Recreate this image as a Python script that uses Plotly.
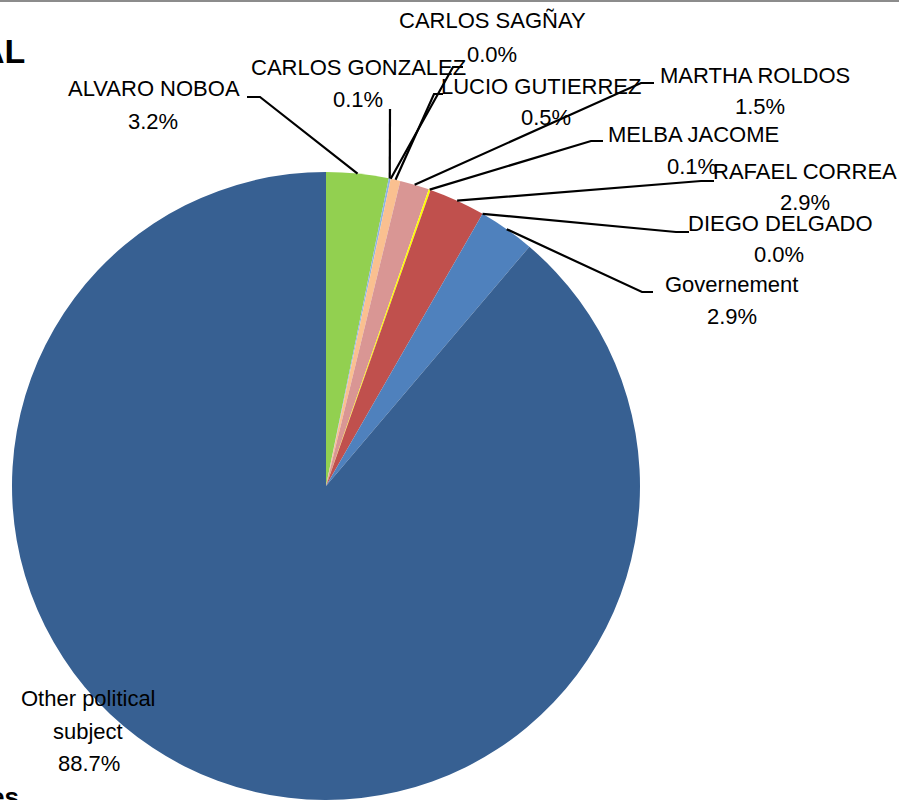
import math
import plotly.graph_objects as go

# ---- data ----
labels = ["ALVARO NOBOA", "CARLOS GONZALEZ", "CARLOS SAGÑAY", "LUCIO GUTIERREZ",
          "MARTHA ROLDOS", "MELBA JACOME", "RAFAEL CORREA", "DIEGO DELGADO",
          "Governement", "Other political subject"]
values = [3.2, 0.1, 0.0, 0.5, 1.5, 0.1, 2.9, 0.0, 2.9, 88.7]
colors = ["#92D050", "#8DB4E2", "#B3A2C7", "#FAC090", "#D99694", "#FFFF00",
          "#C0504D", "#9BBB59", "#4F81BD", "#376092"]

W, H = 899, 800
CX, CY, R = 326, 486, 314  # pie centre / radius in px

def px(x):
    return x / W

def py(y):
    return 1 - y / H

# label layout: (name centre x, name centre y, pct centre x, pct centre y,
#                leader elbow, leader end) in px
layout_pos = {
    "ALVARO NOBOA":    (154, 89, 153, 121, (260, 97), (247, 97)),
    "CARLOS GONZALEZ": (358, 68, 358, 99, (390, 109), None),
    "CARLOS SAGÑAY":   (492, 21, 492, 54, (453, 67), (463, 67)),
    "LUCIO GUTIERREZ": (541, 86, 546, 117, (434, 94), (443, 94)),
    "MARTHA ROLDOS":   (755, 76, 760, 106, (641, 83), (654, 83)),
    "MELBA JACOME":    (693, 134, 692, 166, (591, 141), (603, 141)),
    "RAFAEL CORREA":   (805, 171, 805, 203, (701, 181), (714, 181)),
    "DIEGO DELGADO":   (780, 223, 779, 255, (676, 232), (689, 232)),
    "Governement":     (731, 284, 732, 316, (642, 292), (653, 292)),
}

fig = go.Figure(go.Pie(
    labels=labels, values=values, sort=False, direction="clockwise",
    rotation=0, textinfo="none", hoverinfo="label+percent",
    marker=dict(colors=colors, line=dict(width=0)),
    domain=dict(x=[px(CX - R), px(CX + R)], y=[py(CY + R), py(CY - R)]),
    showlegend=False,
))

font = dict(family="Liberation Sans, Arial, sans-serif", size=22, color="#000000")
annotations = []
shapes = []
total = sum(values)
cum = 0.0
for lab, v in zip(labels, values):
    theta = 2 * math.pi * (cum + v / 2) / total
    cum += v
    sx = CX + R * math.sin(theta)
    sy = CY - R * math.cos(theta)
    pct = f"{v:.1f}%"
    if lab in layout_pos:
        nx, ny, qx, qy, elbow, end = layout_pos[lab]
        annotations.append(dict(x=px(nx), y=py(ny), xref="paper", yref="paper", text=lab,
                                showarrow=False, font=font, xanchor="center", yanchor="middle"))
        annotations.append(dict(x=px(qx), y=py(qy), xref="paper", yref="paper", text=pct,
                                showarrow=False, font=font, xanchor="center", yanchor="middle"))
        path = f"M {px(sx)} {py(sy)} L {px(elbow[0])} {py(elbow[1])}"
        if end is not None:
            path += f" L {px(end[0])} {py(end[1])}"
        shapes.append(dict(type="path", path=path, xref="paper", yref="paper",
                           line=dict(color="#000000", width=2.2)))
    else:
        for txt, (tx, ty) in zip(["Other political", "subject", pct],
                                 [(88, 698), (88, 731), (89, 763)]):
            annotations.append(dict(x=px(tx), y=py(ty), xref="paper", yref="paper", text=txt,
                                    showarrow=False, font=font, xanchor="center", yanchor="middle"))

# cut-off title and footer text
annotations.append(dict(x=px(27), y=py(51), xref="paper", yref="paper", text="<b>AL</b>",
                        showarrow=False, xanchor="right", yanchor="middle",
                        font=dict(family="Liberation Sans, Arial, sans-serif", size=34, color="#000")))
annotations.append(dict(x=px(21), y=py(780), xref="paper", yref="paper", text="<b>es</b>",
                        showarrow=False, xanchor="right", yanchor="top",
                        font=dict(family="Liberation Sans, Arial, sans-serif", size=26, color="#000")))

shapes.append(dict(type="line", xref="paper", yref="paper", x0=0, x1=1, y0=py(1), y1=py(1),
                   line=dict(color="#8C8C8C", width=2)))

fig.update_layout(width=W, height=H, margin=dict(l=0, r=0, t=0, b=0),
                  paper_bgcolor="#FFFFFF", plot_bgcolor="#FFFFFF",
                  annotations=annotations, shapes=shapes)

fig.write_html("out.html", config={"displayModeBar": False},
               post_script="document.body.style.margin='0';document.body.style.overflow='hidden';")
